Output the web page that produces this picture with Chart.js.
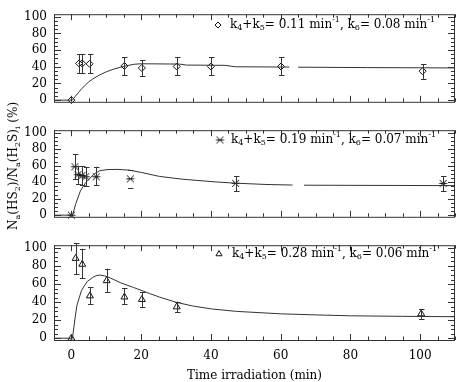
<!DOCTYPE html>
<html>
<head>
<meta charset="utf-8">
<script src="https://cdn.jsdelivr.net/npm/chart.js@4.4.0/dist/chart.umd.min.js"></script>
<style>
body { margin: 0; background: #fff; width: 463px; height: 382px; position: relative; overflow: hidden; }
canvas { position: absolute; left: 0; }
#ytitle {
    position: absolute; left: 13px; top: 166px;
    transform: translate(-50%, -50%) rotate(-90deg);
    white-space: nowrap; font: 12px 'DejaVu Serif'; color: #000;
}
#ytitle sub { font-size: 8px; vertical-align: -3px; line-height: 0; }
</style>
</head>
<body>
<canvas id="p1" width="463" height="116" style="top:0px"></canvas>
<canvas id="p2" width="463" height="115" style="top:116px"></canvas>
<canvas id="p3" width="463" height="151" style="top:231px"></canvas>
<div id="ytitle">N<sub>a</sub>(HS<sub>2</sub>)/N<sub>a</sub>(H<sub>2</sub>S)<sub>i</sub> (%)</div>
<script>
// tick labels
const xTicks = [0, 20, 40, 60, 80, 100];
const yTicks = [0, 20, 40, 60, 80, 100];

// rate constants shown in the legends
const k45 = ['0.11', '0.19', '0.28'];
const k6 = ['0.08', '0.07', '0.06'];

// panel 1: diamonds
const t1 = [0, 2.2, 3.1, 5.2, 15.2, 20.2, 30.2, 40.0, 60.1, 100.7];
const v1 = [0, 44, 44, 43.5, 41, 38.6, 40.3, 40.3, 40.3, 34.7];
const lo1 = [0, 32.4, 32.4, 32.4, 29.7, 28.7, 29.7, 29.7, 29.7, 25.5];
const hi1 = [0, 55.2, 55.2, 55.2, 51.2, 47.9, 51.2, 51.2, 51.2, 42.9];
const fitT1 = [-5, 0, 0.3, 1, 2, 3, 4, 5, 6, 8, 10, 12, 15, 18, 20, 31, 33, 44, 47, 62.5, 63.5, 65, 85, 110];
const fitV1 = [0, 0, 0, 4, 9, 14, 18, 22, 25, 30, 34, 37, 40.5, 43, 43.6, 43.2, 42, 41.7, 40, 39.6, null, 39.5, 39, 38.6];

// panel 2: asterisks
const t2 = [0, 1.0, 1.9, 3.0, 4.1, 7.1, 16.9, 47.1, 106.6];
const v2 = [0, 58.7, 49, 48, 46.5, 46.5, 44, 38.6, 38.6];
const lo2 = [0, 43.9, 38, 36, 35, 36, 32.4, 28.7, 28.7];
const hi2 = [0, 73.6, 60, 59, 58, 58.7, 55.2, 47.3, 47.3];
const bar2 = [true, true, true, true, true, true, false, true, true];
const fitT2 = [-5, 0, 0.3, 1.2, 2.6, 4.1, 6.4, 8.1, 10.2, 13.3, 16.7, 20, 25.2, 32, 41.6, 47, 55.8, 63.4, 65, 66.7, 110];
const fitV2 = [0, 0, 0, 13.2, 29.7, 39.6, 49.5, 53.9, 55.2, 55.5, 54.5, 51.8, 47, 43.5, 40.2, 38.8, 37.2, 36.5, null, 36.3, 35.8];

// panel 3: triangles
const t3 = [0, 1.2, 3.1, 5.3, 10.1, 15.2, 20.2, 30.2, 100.3];
const v3 = [0, 88.4, 81.9, 46.9, 63.7, 45.6, 42.9, 34.7, 27];
const lo3 = [0, 71, 66.7, 38, 51.2, 38, 34.7, 28.7, 21.5];
const hi3 = [0, 105, 99, 56.2, 77, 55.2, 51.2, 40.6, 32];
const fitT3 = [-5, 0, 0.3, 1.2, 1.6, 2.9, 4.5, 6, 7.1, 8.1, 9.5, 11.2, 14, 17.8, 22.4, 25.2, 30.2, 35, 40.2, 47.3, 60, 70, 80, 95, 110];
const fitV3 = [0, 0, 0, 26.8, 36.7, 53, 62.7, 67, 69.3, 70, 69, 66.7, 61.5, 56.2, 49.5, 45.6, 39.6, 35.5, 32.4, 29.7, 27, 25.8, 24.8, 24.2, 23.8];

const FONT = "'DejaVu Serif'";
const INK = '#111';

// IDL-like asterisk marker
function makeAsterisk() {
    const c = document.createElement('canvas');
    c.width = 11; c.height = 11;
    const g = c.getContext('2d');
    g.strokeStyle = INK; g.lineWidth = 1;
    g.beginPath();
    g.moveTo(2, 2); g.lineTo(9, 9);
    g.moveTo(9, 2); g.lineTo(2, 9);
    g.moveTo(1.5, 5.5); g.lineTo(9.5, 5.5);
    g.stroke();
    return c;
}
const asterisk = makeAsterisk();

function toXY(xs, ys) {
    return xs.map((x, i) => ({ x: x, y: ys[i] }));
}

// frame with inward ticks on all four sides
const framePlugin = {
    id: 'frame',
    afterDraw(chart) {
        const ctx = chart.ctx, a = chart.chartArea;
        const xs = chart.scales.x, ys = chart.scales.y;
        ctx.save();
        ctx.strokeStyle = '#333';
        ctx.lineWidth = 1;
        ctx.strokeRect(a.left + 0.5, a.top + 0.5, a.right - a.left - 1, a.bottom - a.top);
        ctx.beginPath();
        for (let v = -5; v <= xs.max; v += 5) {
            const px = Math.round(xs.getPixelForValue(v)) + 0.5;
            const len = (v % 20 === 0) ? 6 : 3.5;
            ctx.moveTo(px, a.bottom); ctx.lineTo(px, a.bottom - len);
            ctx.moveTo(px, a.top); ctx.lineTo(px, a.top + len);
        }
        for (let v = 0; v <= 100; v += 5) {
            const py = Math.round(ys.getPixelForValue(v)) + 0.5;
            const len = (v % 20 === 0) ? 7 : 4;
            ctx.moveTo(a.left, py); ctx.lineTo(a.left + len, py);
            ctx.moveTo(a.right, py); ctx.lineTo(a.right - len, py);
        }
        ctx.stroke();
        ctx.restore();
    }
};

// vertical error bars
const errPlugin = {
    id: 'errbars',
    afterDatasetsDraw(chart) {
        const ctx = chart.ctx;
        const xs = chart.scales.x, ys = chart.scales.y;
        chart.data.datasets.forEach(ds => {
            if (!ds.errLo) return;
            ctx.save();
            ctx.strokeStyle = '#333';
            ctx.lineWidth = 1;
            ds.data.forEach((p, i) => {
                if (ds.errLo[i] === ds.errHi[i]) return;
                const px = Math.round(xs.getPixelForValue(p.x)) + 0.5;
                const yl = ys.getPixelForValue(ds.errLo[i]);
                const yh = ys.getPixelForValue(ds.errHi[i]);
                ctx.beginPath();
                if (!ds.errBar || ds.errBar[i]) {
                    ctx.moveTo(px, yl); ctx.lineTo(px, yh);
                }
                ctx.moveTo(px - 2.5, Math.round(yl) + 0.5); ctx.lineTo(px + 3, Math.round(yl) + 0.5);
                ctx.moveTo(px - 2.5, Math.round(yh) + 0.5); ctx.lineTo(px + 3, Math.round(yh) + 0.5);
                ctx.stroke();
            });
            ctx.restore();
        });
    }
};

function drawRich(ctx, parts, x, y) {
    parts.forEach(p => {
        const small = p.length > 1;
        ctx.font = (small ? 8 : 12) + 'px ' + FONT;
        const dy = p[1] === 'sub' ? 3 : p[1] === 'sup' ? -5 : 0;
        ctx.fillText(p[0], x, y + dy);
        x += ctx.measureText(p[0]).width;
    });
}

const legendPlugin = {
    id: 'rateLegend',
    afterDraw(chart) {
        const o = chart.options.plugins.rateLegend;
        const ctx = chart.ctx;
        ctx.save();
        ctx.strokeStyle = INK;
        ctx.fillStyle = 'rgba(0,0,0,0)';
        ctx.lineWidth = 1;
        Chart.helpers.drawPoint(ctx, { pointStyle: o.marker, radius: o.radius, rotation: 0, borderWidth: 1 }, o.mx, o.y);
        ctx.fillStyle = '#000';
        ctx.textBaseline = 'middle';
        const parts = [['k'], ['4', 'sub'], ['+k'], ['5', 'sub'], ['= ' + k45[o.idx] + ' min'], ['-1', 'sup'],
                       [', k'], ['6', 'sub'], ['= ' + k6[o.idx] + ' min'], ['-1', 'sup']];
        if (o.dot) parts.push(['  .']);
        drawRich(ctx, parts, o.tx, o.y);
        ctx.restore();
    }
};

function makePanel(id, cfg) {
    return new Chart(document.getElementById(id), {
        type: 'scatter',
        data: {
            datasets: [
                {
                    data: toXY(cfg.fitT, cfg.fitV),
                    showLine: true, spanGaps: false, pointRadius: 0,
                    borderColor: '#333', borderWidth: 1
                },
                {
                    data: toXY(cfg.t, cfg.v),
                    errLo: cfg.lo, errHi: cfg.hi, errBar: cfg.bar,
                    pointStyle: cfg.marker, pointRadius: cfg.radius,
                    borderColor: INK, backgroundColor: 'rgba(0,0,0,0)', borderWidth: 1,
                    clip: false
                }
            ]
        },
        options: {
            responsive: false, animation: false, devicePixelRatio: 1,
            layout: { padding: { top: cfg.padTop, right: 8, bottom: cfg.padBottom, left: 0 } },
            plugins: {
                legend: { display: false }, tooltip: { enabled: false },
                rateLegend: cfg.legend
            },
            scales: {
                x: {
                    type: 'linear', min: -5, max: 110,
                    grid: { display: false, drawTicks: false }, border: { display: false },
                    afterBuildTicks: s => { s.ticks = xTicks.map(v => ({ value: v })); },
                    afterFit: s => { s.height = cfg.xHeight; },
                    ticks: { display: cfg.showX, padding: 9, color: '#000', font: { family: FONT, size: 12 } },
                    title: {
                        display: cfg.showX, text: 'Time irradiation (min)', color: '#000',
                        font: { family: FONT, size: 12, lineHeight: 1 }, padding: 0
                    }
                },
                y: {
                    min: -2, max: 103,
                    grid: { display: false, drawTicks: false }, border: { display: false },
                    afterBuildTicks: s => { s.ticks = yTicks.map(v => ({ value: v })); },
                    afterFit: s => { s.width = 54; },
                    ticks: { padding: 7, color: '#000', font: { family: FONT, size: 12 } }
                }
            }
        },
        plugins: [framePlugin, errPlugin, legendPlugin]
    });
}

makePanel('p1', {
    fitT: fitT1, fitV: fitV1, t: t1, v: v1, lo: lo1, hi: hi1,
    marker: 'rectRot', radius: 3.5, padTop: 6, padBottom: 4, xHeight: 0, showX: false,
    legend: { idx: 0, marker: 'rectRot', radius: 3, mx: 218, tx: 230, y: 25 }
});
makePanel('p2', {
    fitT: fitT2, fitV: fitV2, t: t2, v: v2, lo: lo2, hi: hi2, bar: bar2,
    marker: asterisk, radius: 4, padTop: 5, padBottom: 5, xHeight: 0, showX: false,
    legend: { idx: 1, marker: asterisk, radius: 4, mx: 220, tx: 231, y: 24 }
});
makePanel('p3', {
    fitT: fitT3, fitV: fitV3, t: t3, v: v3, lo: lo3, hi: hi3,
    marker: 'triangle', radius: 4, padTop: 5, padBottom: 0, xHeight: 42, showX: true,
    legend: { idx: 2, marker: 'triangle', radius: 3.5, mx: 219, tx: 232, y: 23 }
});
</script>
</body>
</html>
